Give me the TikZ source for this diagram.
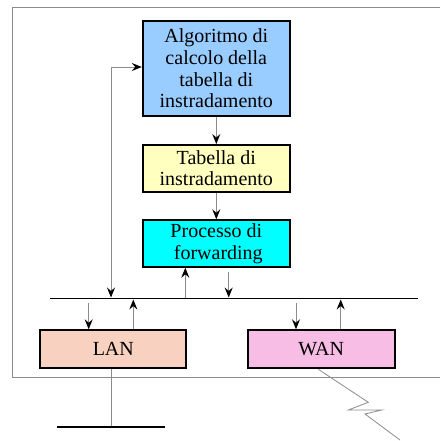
\documentclass[tikz,border=0pt]{standalone}
\usepackage{fontspec}
\setmainfont{Liberation Serif}
\usetikzlibrary{arrows.meta}
\definecolor{algfill}{HTML}{99CCFF}
\definecolor{tabfill}{HTML}{FFFFC0}
\definecolor{procfill}{HTML}{00FFFF}
\definecolor{lanfill}{HTML}{F9D1C0}
\definecolor{wanfill}{HTML}{F8BDE4}
\definecolor{wire}{HTML}{8C8C8C}
\tikzset{
  block/.style={draw=black, line width=2pt, inner sep=0pt, align=center,
    minimum width=147pt, text=black,
    font=\fontsize{20}{21.7}\selectfont},
  conn/.style={draw=wire, line width=0.9pt,
    -{Stealth[length=10pt,width=8pt,inset=3.5pt,color=black]}},
  connboth/.style={draw=wire, line width=0.9pt,
    {Stealth[length=10pt,width=8pt,inset=3.5pt,color=black]}-{Stealth[length=10pt,width=8pt,inset=3.5pt,color=black]}},
  bus/.style={draw=black, line width=1.4pt},
  frame/.style={draw=wire, line width=0.9pt},
  plain/.style={draw=wire, line width=0.8pt},
}
\begin{document}
\begin{tikzpicture}[x=1pt, y=-1pt]
  \useasboundingbox (0,0) rectangle (440,441);
  \fill[white] (0,0) rectangle (440,441);

  % router enclosure (open to the right)
  \draw[frame] (440,7) -- (12.3,7) -- (12.3,377.3) -- (440,377.3);

  % functional blocks
  \node[block, fill=algfill, minimum height=95pt] (alg) at (216.3,68.5)
    {Algoritmo di\\calcolo della\\tabella di\\instradamento};
  \node[block, fill=tabfill, minimum height=46.5pt] (tab) at (216.3,168.3)
    {Tabella di\\instradamento};
  \node[block, fill=procfill, minimum height=46.5pt] (proc) at (216.3,243.5)
    {Processo di\\\hspace{4pt}forwarding};
  \node[block, fill=lanfill, minimum width=146pt, minimum height=38pt] (lan) at (113.3,349.3) {LAN};
  \node[block, fill=wanfill, minimum width=147pt, minimum height=38pt] (wan) at (321.2,349.3) {WAN};

  % internal bus
  \coordinate (busL) at (50,298.3);
  \coordinate (busR) at (417.7,298.3);
  \draw[bus] (busL) -- (busR);

  % bus attachment points
  \coordinate (fb)    at (111,297.5);
  \coordinate (upP)   at (185.3,298.3);
  \coordinate (dnPs)  at (228.7,271.7);
  \coordinate (dnPe)  at (228.7,297.5);
  \coordinate (lanIn) at (88.7,303.3);
  \coordinate (lanOut) at (133.3,299.5);
  \coordinate (wanIn) at (296,303.3);
  \coordinate (wanOut) at (340.7,299.5);

  % block chain
  \draw[conn] (alg.south) -- (tab.north);
  \draw[conn] (tab.south) -- (proc.north);

  % feedback from the bus to the routing algorithm
  \draw[connboth] (fb) |- ([yshift=1.5pt]alg.west);

  % forwarding process to and from the bus
  \draw[conn] (upP) -- (upP |- proc.south);
  \draw[conn] (dnPs) -- (dnPe);

  % interfaces to and from the bus
  \draw[conn] (lanIn) -- (lanIn |- lan.north);
  \draw[conn] (lanOut |- lan.north) -- (lanOut);
  \draw[conn] (wanIn) -- (wanIn |- wan.north);
  \draw[conn] (wanOut |- wan.north) -- (wanOut);

  % LAN segment
  \coordinate (lanDrop) at (111,425.5);
  \coordinate (segL) at (57.3,426.7);
  \coordinate (segR) at (165,426.7);
  \draw[plain] (lanDrop |- lan.south) -- (lanDrop);
  \draw[draw=black, line width=2pt] (segL) -- (segR);

  % WAN link (lightning)
  \coordinate (wanTap) at (318.3,0);
  \coordinate (wanEnd) at (400,440);
  \draw[plain] (wanTap |- wan.south) -- (368.3,402.3) -- (348.3,410)
    -- (381.7,410) -- (365,414) -- (wanEnd);
\end{tikzpicture}
\end{document}
